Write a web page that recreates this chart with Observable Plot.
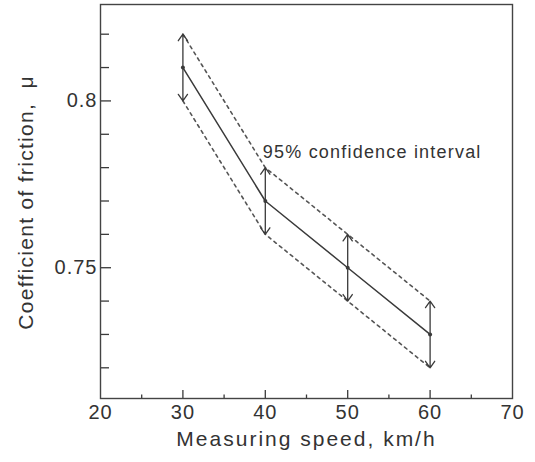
<!DOCTYPE html>
<html>
<head>
<meta charset="utf-8">
<script src="https://cdn.jsdelivr.net/npm/d3@7"></script>
<script src="https://cdn.jsdelivr.net/npm/@observablehq/plot@0.6"></script>
<style>
  html, body { margin: 0; padding: 0; background: #fff; }
  g[aria-label="x-axis tick label"] { font-size: 20px; letter-spacing: 1px; }
  g[aria-label="y-axis tick label"] { font-size: 20px; letter-spacing: 1px; }
</style>
</head>
<body>
<div id="chart"></div>
<script>
// ---- data ----
const speed = [30, 40, 50, 60];              // km/h
const mu    = [0.81, 0.77, 0.75, 0.73];      // mean coefficient of friction
const upper = [0.82, 0.78, 0.76, 0.74];      // upper 95% bound
const lower = [0.80, 0.76, 0.74, 0.72];      // lower 95% bound

const xTickLabels = [20, 30, 40, 50, 60, 70];
const xMajorTicks = [30, 40, 50, 60];
const xMinorTicks = [25, 35, 45, 55, 65];
const yTickLabels = [0.75, 0.8];
const yMinorTicks = [0.72, 0.73, 0.74, 0.76, 0.77, 0.78, 0.79, 0.81, 0.82];

const xTitle = ["Measuring speed, km/h"];
const yTitle = ["Coefficient of friction,  \u03bc"];
const annText = ["95% confidence interval"];
const annX = [39.7];
const annY = [0.7828];

// ---- build table ----
const rows = speed.map((s, i) => ({speed: s, mu: mu[i], upper: upper[i], lower: lower[i]}));
const ann = annText.map((t, i) => ({t, x: annX[i], y: annY[i]}));

const W = 535, H = 462;
const mL = 100, mR = 23, mT = 4, mB = 64;
const plotW = W - mL - mR, plotH = H - mT - mB;
const ink = "#3a3a3a";
const armSW = 1.3;

const chart = Plot.plot({
  width: W,
  height: H,
  marginLeft: mL,
  marginRight: mR,
  marginTop: mT,
  marginBottom: mB,
  style: {fontFamily: '"Liberation Sans", Arial, Helvetica, sans-serif', color: "#333", background: "#fff"},
  x: {domain: [20, 70]},
  y: {domain: [0.7108, 0.8289]},
  marks: [
    Plot.axisX({ticks: xTickLabels, tickSize: 0, tickPadding: 6, label: null, tickFormat: d => String(d)}),
    Plot.axisY({ticks: yTickLabels, tickSize: 0, tickPadding: 3, label: null, tickFormat: d => String(d)}),
    Plot.tickX(xMajorTicks, {x: d => d, insetTop: plotH - 8, stroke: ink, strokeWidth: 1.3}),
    Plot.tickX(xMinorTicks, {x: d => d, insetTop: plotH - 3.5, stroke: ink, strokeWidth: 1.3}),
    Plot.tickY(yTickLabels, {y: d => d, insetRight: plotW - 11, stroke: ink, strokeWidth: 1.3}),
    Plot.tickY(yMinorTicks, {y: d => d, insetRight: plotW - 9, stroke: ink, strokeWidth: 1.3}),
    Plot.frame({stroke: "#444", strokeWidth: 1.4}),
    Plot.line(rows, {x: "speed", y: "upper", stroke: "#555", strokeWidth: 1.6, strokeDasharray: "3,4"}),
    Plot.line(rows, {x: "speed", y: "lower", stroke: "#555", strokeWidth: 1.6, strokeDasharray: "3,4"}),
    Plot.line(rows, {x: "speed", y: "mu", stroke: ink, strokeWidth: 1.5}),
    Plot.arrow(rows, {x: "speed", y1: "mu", y2: "upper", stroke: ink, strokeWidth: armSW, headLength: 8 * 1.5 / armSW, headAngle: 70}),
    Plot.arrow(rows, {x: "speed", y1: "mu", y2: "lower", stroke: ink, strokeWidth: armSW, headLength: 8 * 1.5 / armSW, headAngle: 70}),
    Plot.dot(rows, {x: "speed", y: "mu", r: 2, fill: ink}),
    Plot.text(ann, {x: "x", y: "y", text: "t", textAnchor: "start", lineAnchor: "bottom", fill: "#333", fontSize: 18}),
    Plot.text(xTitle, {text: d => d, frameAnchor: "bottom", textAnchor: "middle", dy: 47, lineAnchor: "bottom", fill: "#333", fontSize: 21}),
    Plot.text(yTitle, {text: d => d, frameAnchor: "left", textAnchor: "middle", rotate: -90, dx: -68, dy: 1, lineAnchor: "bottom", fill: "#333", fontSize: 21})
  ]
});
document.getElementById("chart").appendChild(chart);

// letter spacing to match the loosely tracked lettering of the reference
const spacing = new Map([[annText[0], "1.2px"], [xTitle[0], "2px"], [yTitle[0], "1.3px"]]);
d3.select(chart).selectAll("text").each(function() {
  const s = spacing.get(this.textContent);
  if (s) this.style.letterSpacing = s;
});
</script>
</body>
</html>
